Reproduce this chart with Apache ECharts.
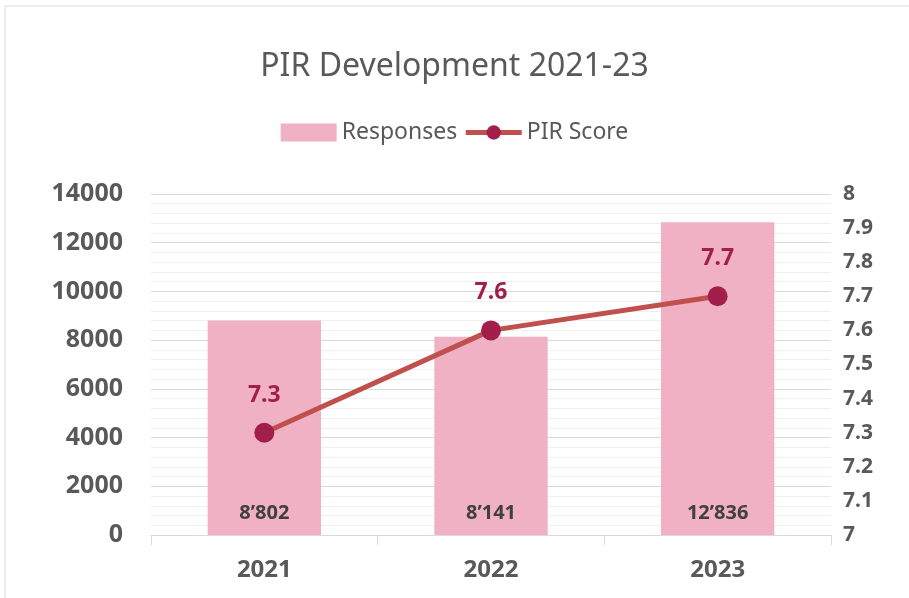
<!DOCTYPE html>
<html>
<head>
<meta charset="utf-8">
<style>
  html, body { margin: 0; padding: 0; background: #fff; }
  #main { width: 909px; height: 598px; }
</style>
<script src="https://cdn.jsdelivr.net/npm/echarts@6/dist/echarts.min.js"></script>
</head>
<body>
<div id="main"></div>
<script>
// chart data
const years = ['2021', '2022', '2023']
const responses = [8802, 8141, 12836]
const pirScore = [7.3, 7.6, 7.7]

const font = 'Noto Sans'
const grey = '#595959'

// 8802 -> 8’802
function fmtThousands(v) {
  return String(v).replace(/\B(?=(\d{3})+(?!\d))/g, '\u2019')
}

const chart = echarts.init(document.getElementById('main'))

chart.setOption({
  animation: false,
  textStyle: { fontFamily: font },
  graphic: [{
    type: 'rect',
    shape: { x: 5, y: 6, width: 920, height: 620 },
    style: { fill: 'none', stroke: '#d9d9d9', lineWidth: 1 },
    silent: true
  }],
  title: {
    text: 'PIR Development 2021-23',
    left: 'center',
    top: 46,
    textStyle: { color: grey, fontSize: 32, fontWeight: 'normal', fontFamily: font }
  },
  legend: {
    top: 116,
    left: 'center',
    itemGap: 6,
    textStyle: { color: grey, fontSize: 23, fontFamily: font },
    data: [
      { name: 'Responses', icon: 'rect', itemStyle: { color: '#F0B1C4' } },
      { name: 'PIR Score', lineStyle: { width: 5 } }
    ],
    itemWidth: 56,
    itemHeight: 18
  },
  grid: { left: 151, right: 78, top: 194, bottom: 63 },
  xAxis: {
    type: 'category',
    data: years,
    axisLine: { lineStyle: { color: '#d9d9d9' } },
    axisTick: { show: true, length: 10, lineStyle: { color: '#d9d9d9' } },
    axisLabel: { color: grey, fontSize: 24, fontWeight: 'bold', margin: 23, fontFamily: font }
  },
  yAxis: [{
    type: 'value',
    min: 0,
    max: 14000,
    interval: 2000,
    axisLabel: {
      color: grey, fontSize: 25, fontWeight: 'bold', margin: 28, fontFamily: font,
      formatter: v => String(v)
    },
    splitLine: { lineStyle: { color: '#d9d9d9' } },
    minorTick: { show: false, splitNumber: 5 },
    minorSplitLine: { show: true, lineStyle: { color: '#efefef' } }
  }, {
    type: 'value',
    min: 7,
    max: 8,
    interval: 0.1,
    axisLabel: {
      color: grey, fontSize: 21, fontWeight: 'bold', margin: 12, fontFamily: font,
      formatter: v => String(+v.toFixed(1))
    },
    splitLine: { show: false }
  }],
  series: [{
    name: 'Responses',
    type: 'bar',
    data: responses,
    barWidth: '50%',
    itemStyle: { color: '#F0B1C4' },
    label: {
      show: true,
      position: 'insideBottom',
      distance: 12,
      color: '#404040',
      fontSize: 20,
      fontWeight: 'bold',
      fontFamily: font,
      formatter: p => fmtThousands(p.value)
    }
  }, {
    name: 'PIR Score',
    type: 'line',
    yAxisIndex: 1,
    data: pirScore,
    symbol: 'circle',
    symbolSize: 20,
    lineStyle: { color: '#C0504D', width: 5 },
    itemStyle: { color: '#A31F4B' },
    label: {
      show: true,
      position: 'top',
      distance: 16,
      color: '#A31F4B',
      fontSize: 23,
      fontWeight: 'bold',
      fontFamily: font
    }
  }]
})
</script>
</body>
</html>
